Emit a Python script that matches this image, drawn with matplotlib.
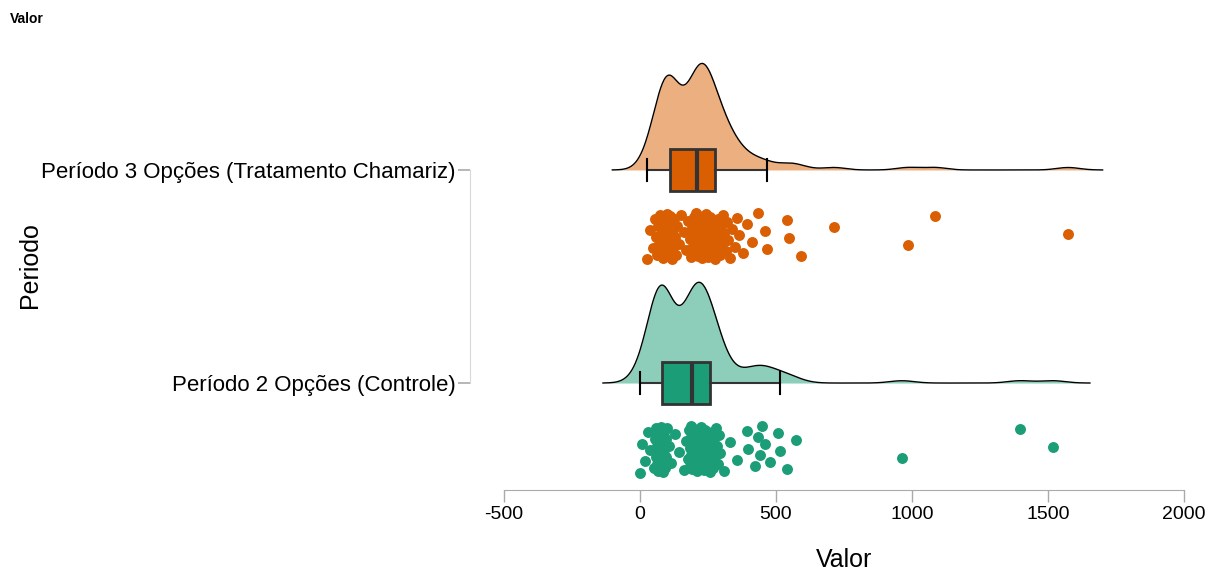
import numpy as np
import matplotlib
matplotlib.use("Agg")
import matplotlib.pyplot as plt

plt.rcParams['font.family'] = ['Liberation Sans', 'DejaVu Sans']

groups = ["Período 2 Opções (Controle)", "Período 3 Opções (Tratamento Chamariz)"]
colors = ["#1B9E77", "#D95F02"]
light = ["#8DCEBB", "#ECAF80"]

controle = [
    0, 8, 18, 28, 36, 50, 54, 57, 59, 61, 63, 64, 65, 67, 69, 70, 71, 72, 73, 74,
    75, 76, 77, 78, 78, 79, 79, 80, 80, 81,
    82, 83, 84, 85, 86, 87, 88, 89, 90, 92, 94, 97, 101, 107, 115, 128, 145, 160,
    170, 176, 180, 183, 185, 186, 187, 188, 189, 190, 190, 191,
    192, 194, 196, 198, 200, 202, 204, 206, 208, 210, 212, 214, 216, 218, 220, 222,
    224, 226, 228, 230, 232, 234, 236, 238, 240, 243, 246, 250, 254, 257,
    260, 262, 264, 266, 268, 272, 275, 278, 282, 285, 290, 295, 310, 330, 356, 393,
    397, 423, 434, 441, 448, 460, 478, 507, 515, 540, 573, 963, 1397, 1518,
]

chamariz = [
    25, 38, 48, 55, 60, 64, 68, 71, 74, 77, 80, 82, 84, 86, 88, 90, 92, 94, 96, 98,
    99, 100, 101, 102, 104, 105, 106, 108, 109, 110,
    112, 113, 115, 117, 119, 121, 123, 125, 128, 131, 135, 142, 150, 160, 170, 178,
    185, 189, 192, 195, 197, 199, 201, 203, 204, 205, 206, 207, 208, 210,
    212, 214, 216, 218, 220, 222, 224, 226, 228, 230, 231, 232, 234, 236, 238, 240,
    241, 242, 244, 246, 248, 250, 253, 256, 259, 262, 265, 268, 271, 274,
    280, 283, 285, 290, 295, 298, 300, 305, 310, 318, 320, 325, 332, 340, 348, 355,
    365, 378, 395, 411, 434, 458, 467, 540, 548, 592, 713, 985, 1085, 1574,
]

xticks = [-500, 0, 500, 1000, 1500, 2000]


def bw_nrd0(x):
    q1, q3 = np.percentile(x, [25, 75])
    s = min(np.std(x, ddof=1), (q3 - q1) / 1.34)
    return 0.9 * s * len(x) ** -0.2


def kde(x):
    x = np.asarray(x, float)
    bw = bw_nrd0(x)
    grid = np.linspace(x.min() - 3 * bw, x.max() + 3 * bw, 600)
    d = np.exp(-0.5 * ((grid[:, None] - x[None, :]) / bw) ** 2).sum(axis=1)
    d /= len(x) * bw * np.sqrt(2 * np.pi)
    return grid, d


fig = plt.figure(figsize=(12.13, 5.72), dpi=100)
ax = fig.add_axes([504 / 1213, 82 / 572, 680 / 1213, 450 / 572])

data = [np.asarray(controle, float), np.asarray(chamariz, float)]
dens = [kde(v) for v in data]
peak = max(d.max() for _, d in dens)
cloud_h = 0.5

for i, (vals, (grid, d)) in enumerate(zip(data, dens)):
    pos = i + 1
    h = d / peak * cloud_h
    ax.fill_between(grid, pos, pos + h, color=light[i], lw=0, zorder=1)
    ax.plot(grid, pos + h, color="black", lw=1, zorder=2)

    # box and whiskers
    bp = ax.boxplot([vals], positions=[pos], vert=False, widths=0.2,
                    patch_artist=True, showfliers=False, whis=1.5,
                    manage_ticks=False, zorder=3)
    for b in bp['boxes']:
        b.set_facecolor(colors[i])
        b.set_edgecolor("#333333")
        b.set_linewidth(2)
    for m in bp['medians']:
        m.set_color("#333333")
        m.set_linewidth(3)
    for w in bp['whiskers']:
        w.set_color("#333333")
        w.set_linewidth(1.5)
    for c in bp['caps']:
        c.set_color("black")
        c.set_linewidth(1.5)
        c.set_ydata([pos - 0.052, pos + 0.052])

    # jittered raw points
    n = len(vals)
    off = ((np.arange(n) * 0.618034) % 1 - 0.5) * 0.22
    ax.scatter(vals, pos - 0.31 + off, s=62, color=colors[i], lw=0, zorder=4)

ax.set_xlim(-500, 2000)
ax.set_ylim(0.498, 2.61)
ax.set_xticks(xticks)
ax.set_xticklabels([str(t) for t in xticks])
ax.set_yticks([1, 2])
ax.set_yticklabels(groups)

for s in ['top', 'right']:
    ax.spines[s].set_visible(False)
ax.spines['bottom'].set_bounds(-500, 2000)
ax.spines['bottom'].set_color("#aaaaaa")
ax.spines['left'].set_position(('outward', 24.5))
ax.spines['left'].set_bounds(1, 2)
ax.spines['left'].set_color("#d9d9d9")
ax.tick_params(axis='x', color="#aaaaaa", length=8.5, width=1, pad=3, labelsize=14)
ax.tick_params(axis='y', color="#aaaaaa", length=8.5, width=1.2, pad=2, labelsize=16)

ax.set_xlabel("Valor", fontsize=18, labelpad=18)
ax.set_ylabel("Periodo", fontsize=18)
ax.yaxis.set_label_coords(-0.68, 0.5)

fig.text(10 / 1213, 1 - 23 / 572, "Valor", fontsize=10, fontweight='bold')

fig.savefig("out.png", dpi=100)
